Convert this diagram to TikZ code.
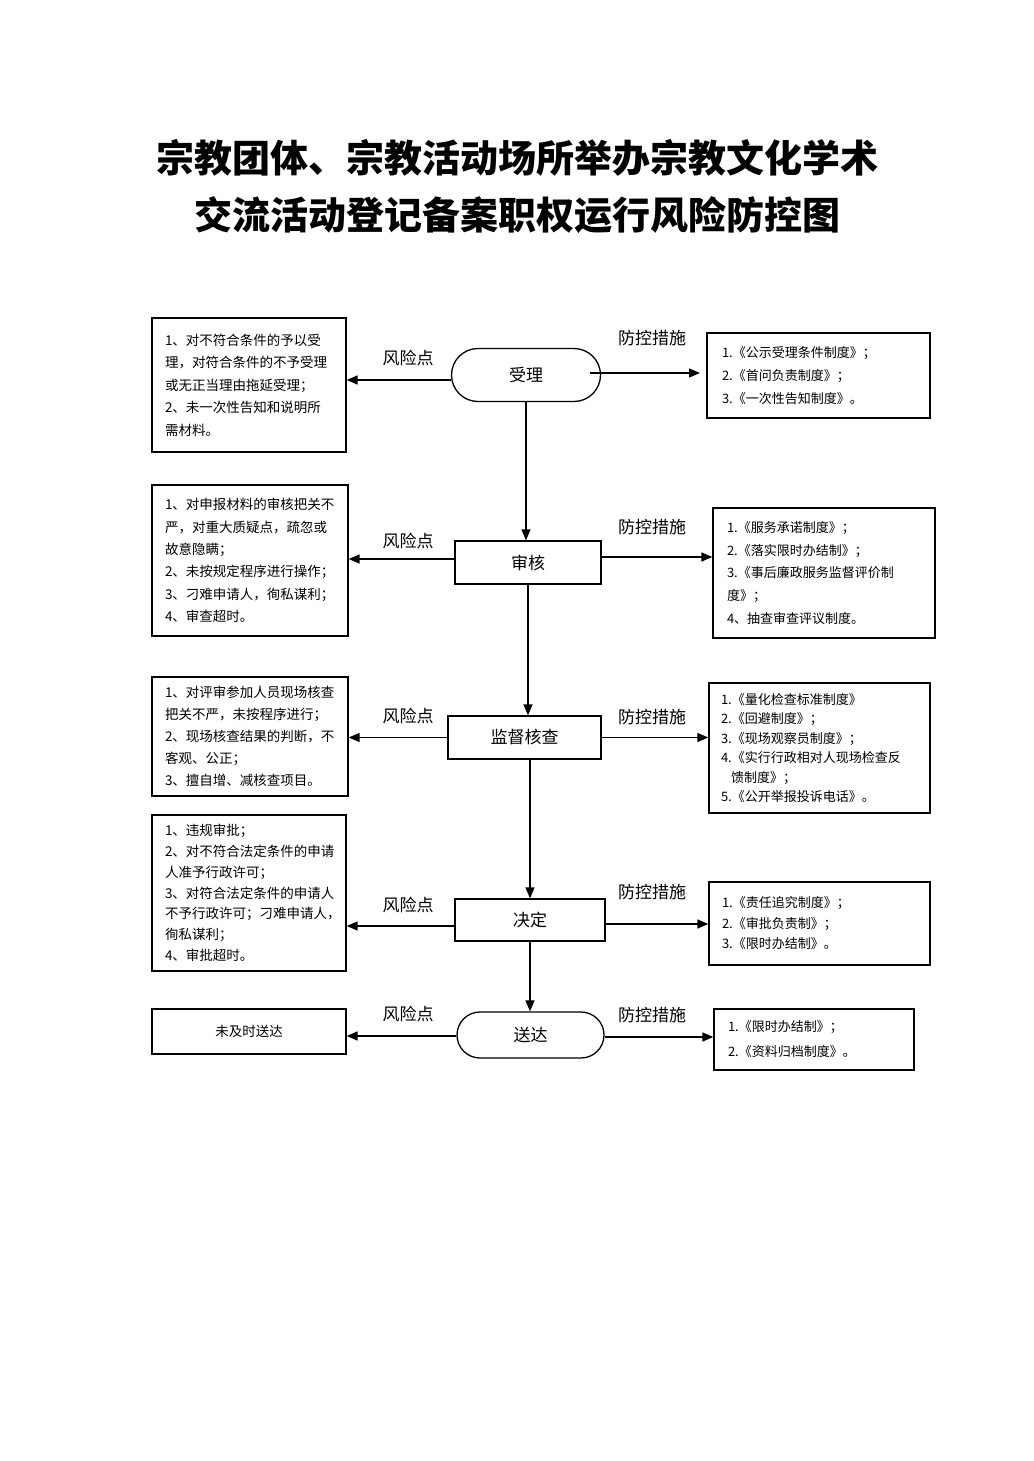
\documentclass[tikz,border=0pt]{standalone}
\usepackage{fontspec}
\setmainfont{Noto Sans CJK SC}
\usetikzlibrary{arrows.meta,shapes.misc}
\begin{document}
\begin{tikzpicture}[x=1pt,y=-1pt,
  tbox/.style={draw,line width=1.3pt,inner xsep=0pt,inner ysep=0pt,align=left},
  lbox/.style={tbox,font=\fontsize{13.5pt}{#1}\selectfont},
  rbox/.style={tbox,font=\fontsize{13pt}{#1}\selectfont},
  stadium/.style={draw,line width=1.3pt,rounded rectangle,font=\fontsize{17pt}{20pt}\selectfont,inner sep=0pt},
  stepbox/.style={draw,line width=1.3pt,rectangle,font=\fontsize{17pt}{20pt}\selectfont,inner sep=0pt},
  lab/.style={font=\fontsize{17pt}{20pt}\selectfont,inner sep=0pt},
  arr/.style={line width=1.4pt,-{Triangle[length=11pt,width=9pt]}}]
\useasboundingbox[fill=white] (0,0) rectangle (1033,1461);

% title
\node[font=\fontsize{38pt}{46pt}\selectfont\bfseries] (t1) at (517,158) {宗教团体、宗教活动场所举办宗教文化学术};
\node[font=\fontsize{38pt}{46pt}\selectfont\bfseries] (t2) at (517,215) {交流活动登记备案职权运行风险防控图};

% central flow
\node[stadium,minimum width=149pt,minimum height=53pt] (n1) at (526,375) {受理};
\node[stepbox,minimum width=146pt,minimum height=43pt] (n2) at (528,562.5) {审核};
\node[stepbox,minimum width=153pt,minimum height=43pt] (n3) at (524.5,737.5) {监督核查};
\node[stepbox,minimum width=150pt,minimum height=42pt] (n4) at (530,920) {决定};
\node[stadium,minimum width=147pt,minimum height=46pt] (n5) at (530.5,1035) {送达};

% left boxes
\node[lbox=22.5pt,minimum width=194pt,minimum height=134pt,text width=168pt] (L1) at (249,385)
 {1、对不符合条件的予以受\\理，对符合条件的不予受理\\或无正当理由拖延受理；\\2、未一次性告知和说明所\\需材料。};
\node[lbox=22.4pt,minimum width=196pt,minimum height=151pt,text width=170pt] (L2) at (250,560.5)
 {1、对申报材料的审核把关不\\严，对重大质疑点，疏忽或\\故意隐瞒；\\2、未按规定程序进行操作；\\3、刁难申请人，徇私谋利；\\4、审查超时。};
\node[lbox=22pt,minimum width=196pt,minimum height=119pt,text width=170pt] (L3) at (250,736.5)
 {1、对评审参加人员现场核查\\把关不严，未按程序进行；\\2、现场核查结果的判断，不\\客观、公正；\\3、擅自增、减核查项目。};
\node[lbox=20.8pt,minimum width=194pt,minimum height=156pt,text width=168pt] (L4) at (249,893)
 {1、违规审批；\\2、对不符合法定条件的申请\\人准予行政许可；\\3、对符合法定条件的申请人\\不予行政许可；刁难申请人，\\徇私谋利；\\4、审批超时。};
\node[tbox,font=\fontsize{13.5pt}{16pt}\selectfont,align=center,minimum width=194pt,minimum height=45pt] (L5) at (249,1031.5) {未及时送达};

% right boxes
\node[rbox=23pt,minimum width=223pt,minimum height=85pt,text width=193pt] (R1) at (818.5,375.5)
 {1.《公示受理条件制度》；\\2.《首问负责制度》；\\3.《一次性告知制度》。};
\node[rbox=22.7pt,minimum width=222pt,minimum height=130pt,text width=194pt] (R2) at (824,573)
 {1.《服务承诺制度》；\\2.《落实限时办结制》；\\3.《事后廉政服务监督评价制\\度》；\\4、抽查审查评议制度。};
\node[rbox=19.5pt,minimum width=221pt,minimum height=130pt,text width=197pt] (R3) at (819.5,748)
 {1.《量化检查标准制度》\\2.《回避制度》；\\3.《现场观察员制度》；\\4.《实行行政相对人现场检查反\\\hspace*{10pt}馈制度》；\\5.《公开举报投诉电话》。};
\node[rbox=20.5pt,minimum width=221pt,minimum height=83pt,text width=195pt] (R4) at (819.5,923.5)
 {1.《责任追究制度》；\\2.《审批负责制》；\\3.《限时办结制》。};
\node[rbox=25pt,minimum width=200pt,minimum height=61pt,text width=172pt] (R5) at (814,1039.5)
 {1.《限时办结制》；\\2.《资料归档制度》。};

% vertical flow arrows
\draw[arr] (n1.south) -- (n1.south |- n2.north);
\draw[arr] (n2.south) -- (n2.south |- n3.north);
\draw[arr] (n4.north |- n3.south) -- (n4.north);
\draw[arr] (n4.south) -- (n4.south |- n5.north);

% left arrows (risk points)
\draw[arr] ([yshift=-5pt]n1.west) -- ([yshift=-5pt]n1.west -| L1.east);
\draw[arr] ([yshift=3.5pt]n2.west) -- ([yshift=3.5pt]n2.west -| L2.east);
\draw[arr] (n3.west) -- (n3.west -| L3.east);
\draw[arr] ([yshift=-6pt]n4.west) -- ([yshift=-6pt]n4.west -| L4.east);
\draw[arr] ([yshift=-1pt]n5.west) -- ([yshift=-1pt]n5.west -| L5.east);

% right arrows (control measures)
\coordinate (r1s) at ([xshift=-11pt,yshift=2pt]n1.east);
\coordinate (r1e) at (700,373);
\draw[arr] (r1s) -- (r1e);
\draw[arr] ([yshift=5.5pt]n2.east) -- ([yshift=5.5pt]n2.east -| R2.west);
\draw[arr] (n3.east) -- (n3.east -| R3.west);
\draw[arr] ([yshift=-4pt]n4.east) -- ([yshift=-4pt]n4.east -| R4.west);
\draw[arr] ([yshift=-2pt]n5.east) -- ([yshift=-2pt]n5.east -| R5.west);

% labels
\node[lab] (a1) at (408,358) {风险点};
\node[lab] (a2) at (408,541) {风险点};
\node[lab] (a3) at (408,716) {风险点};
\node[lab] (a4) at (408,905) {风险点};
\node[lab] (a5) at (408,1014) {风险点};
\node[lab] (b1) at (652,338) {防控措施};
\node[lab] (b2) at (652,527) {防控措施};
\node[lab] (b3) at (652,717) {防控措施};
\node[lab] (b4) at (652,892) {防控措施};
\node[lab] (b5) at (652,1015) {防控措施};
\end{tikzpicture}
\end{document}
